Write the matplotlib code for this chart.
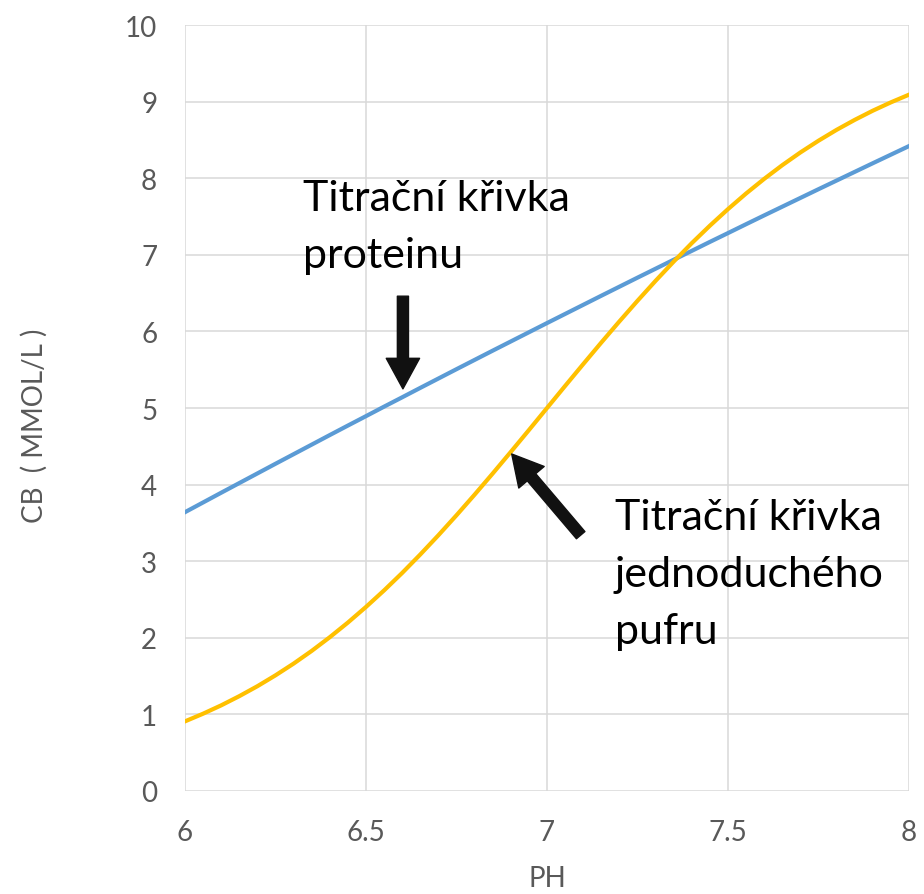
import matplotlib.pyplot as plt

# pH values, step 0.05
ph = [6.00, 6.05, 6.10, 6.15, 6.20, 6.25, 6.30, 6.35, 6.40, 6.45, 6.50,
      6.55, 6.60, 6.65, 6.70, 6.75, 6.80, 6.85, 6.90, 6.95, 7.00,
      7.05, 7.10, 7.15, 7.20, 7.25, 7.30, 7.35, 7.40, 7.45, 7.50,
      7.55, 7.60, 7.65, 7.70, 7.75, 7.80, 7.85, 7.90, 7.95, 8.00]

# protein titration curve (blue)
protein = [3.640, 3.767, 3.894, 4.020, 4.146, 4.272, 4.397, 4.522, 4.647, 4.771, 4.894,
           5.018, 5.140, 5.263, 5.385, 5.507, 5.628, 5.749, 5.869, 5.989, 6.109,
           6.228, 6.347, 6.466, 6.584, 6.702, 6.819, 6.936, 7.052, 7.169, 7.284,
           7.400, 7.515, 7.629, 7.743, 7.857, 7.970, 8.083, 8.196, 8.308, 8.420]

# simple buffer titration curve (yellow)
buffer = [0.909, 1.009, 1.118, 1.238, 1.368, 1.510, 1.663, 1.829, 2.008, 2.199, 2.403,
          2.619, 2.847, 3.088, 3.339, 3.600, 3.869, 4.145, 4.427, 4.712, 5.000,
          5.288, 5.573, 5.855, 6.131, 6.400, 6.661, 6.912, 7.153, 7.381, 7.597,
          7.801, 7.992, 8.171, 8.337, 8.490, 8.632, 8.762, 8.882, 8.991, 9.091]

xticks = [6, 6.5, 7, 7.5, 8]
xticklabels = ['6', '6.5', '7', '7.5', '8']
yticks = list(range(0, 11))

plt.rcParams['font.family'] = ['Lato', 'DejaVu Sans']

fig = plt.figure(figsize=(9.24, 8.95), dpi=100)
ax = fig.add_axes([0.2002, 0.1151, 0.7836, 0.8558])

ax.plot(ph, protein, color='#5B9BD5', lw=3, solid_joinstyle='round', zorder=3)
ax.plot(ph, buffer, color='#FFC000', lw=3, solid_joinstyle='round', zorder=3)

ax.set_xlim(6, 8)
ax.set_ylim(0, 10)
ax.set_xticks(xticks)
ax.set_xticklabels(xticklabels)
ax.set_yticks(yticks)
ax.tick_params(length=0, labelsize=20, labelcolor='#595959', pad=20)
ax.grid(True, color='#d9d9d9', lw=1.1)
ax.set_axisbelow(True)
for s in ax.spines.values():
    s.set_visible(False)

ax.set_xlabel('PH', fontsize=20, color='#595959')
ax.xaxis.set_label_coords(0.5, -0.097)
ax.set_ylabel('CB  ( MMOL/L )', fontsize=20, color='#595959')
ax.yaxis.set_label_coords(-0.19, 0.478)

# annotations
ax.text(6.326, 7.99, 'Titrační křivka\nproteinu', fontsize=31, color='black',
        va='top', ha='left', linespacing=1.6)
ax.text(7.188, 3.82, 'Titrační křivka\njednoduchého\npufru', fontsize=31,
        color='black', va='top', ha='left', linespacing=1.6)

astyle = 'simple,head_length=1.1,head_width=1.2,tail_width=0.4'
ax.annotate('', xy=(6.602, 5.25), xytext=(6.602, 6.46),
            arrowprops=dict(arrowstyle=astyle, color='#111111', mutation_scale=20,
                            shrinkA=0, shrinkB=0))
ax.annotate('', xy=(6.9025, 4.40), xytext=(7.093, 3.34),
            arrowprops=dict(arrowstyle=astyle, color='#111111', mutation_scale=20,
                            shrinkA=0, shrinkB=0))

fig.savefig('out.png', dpi=100)
